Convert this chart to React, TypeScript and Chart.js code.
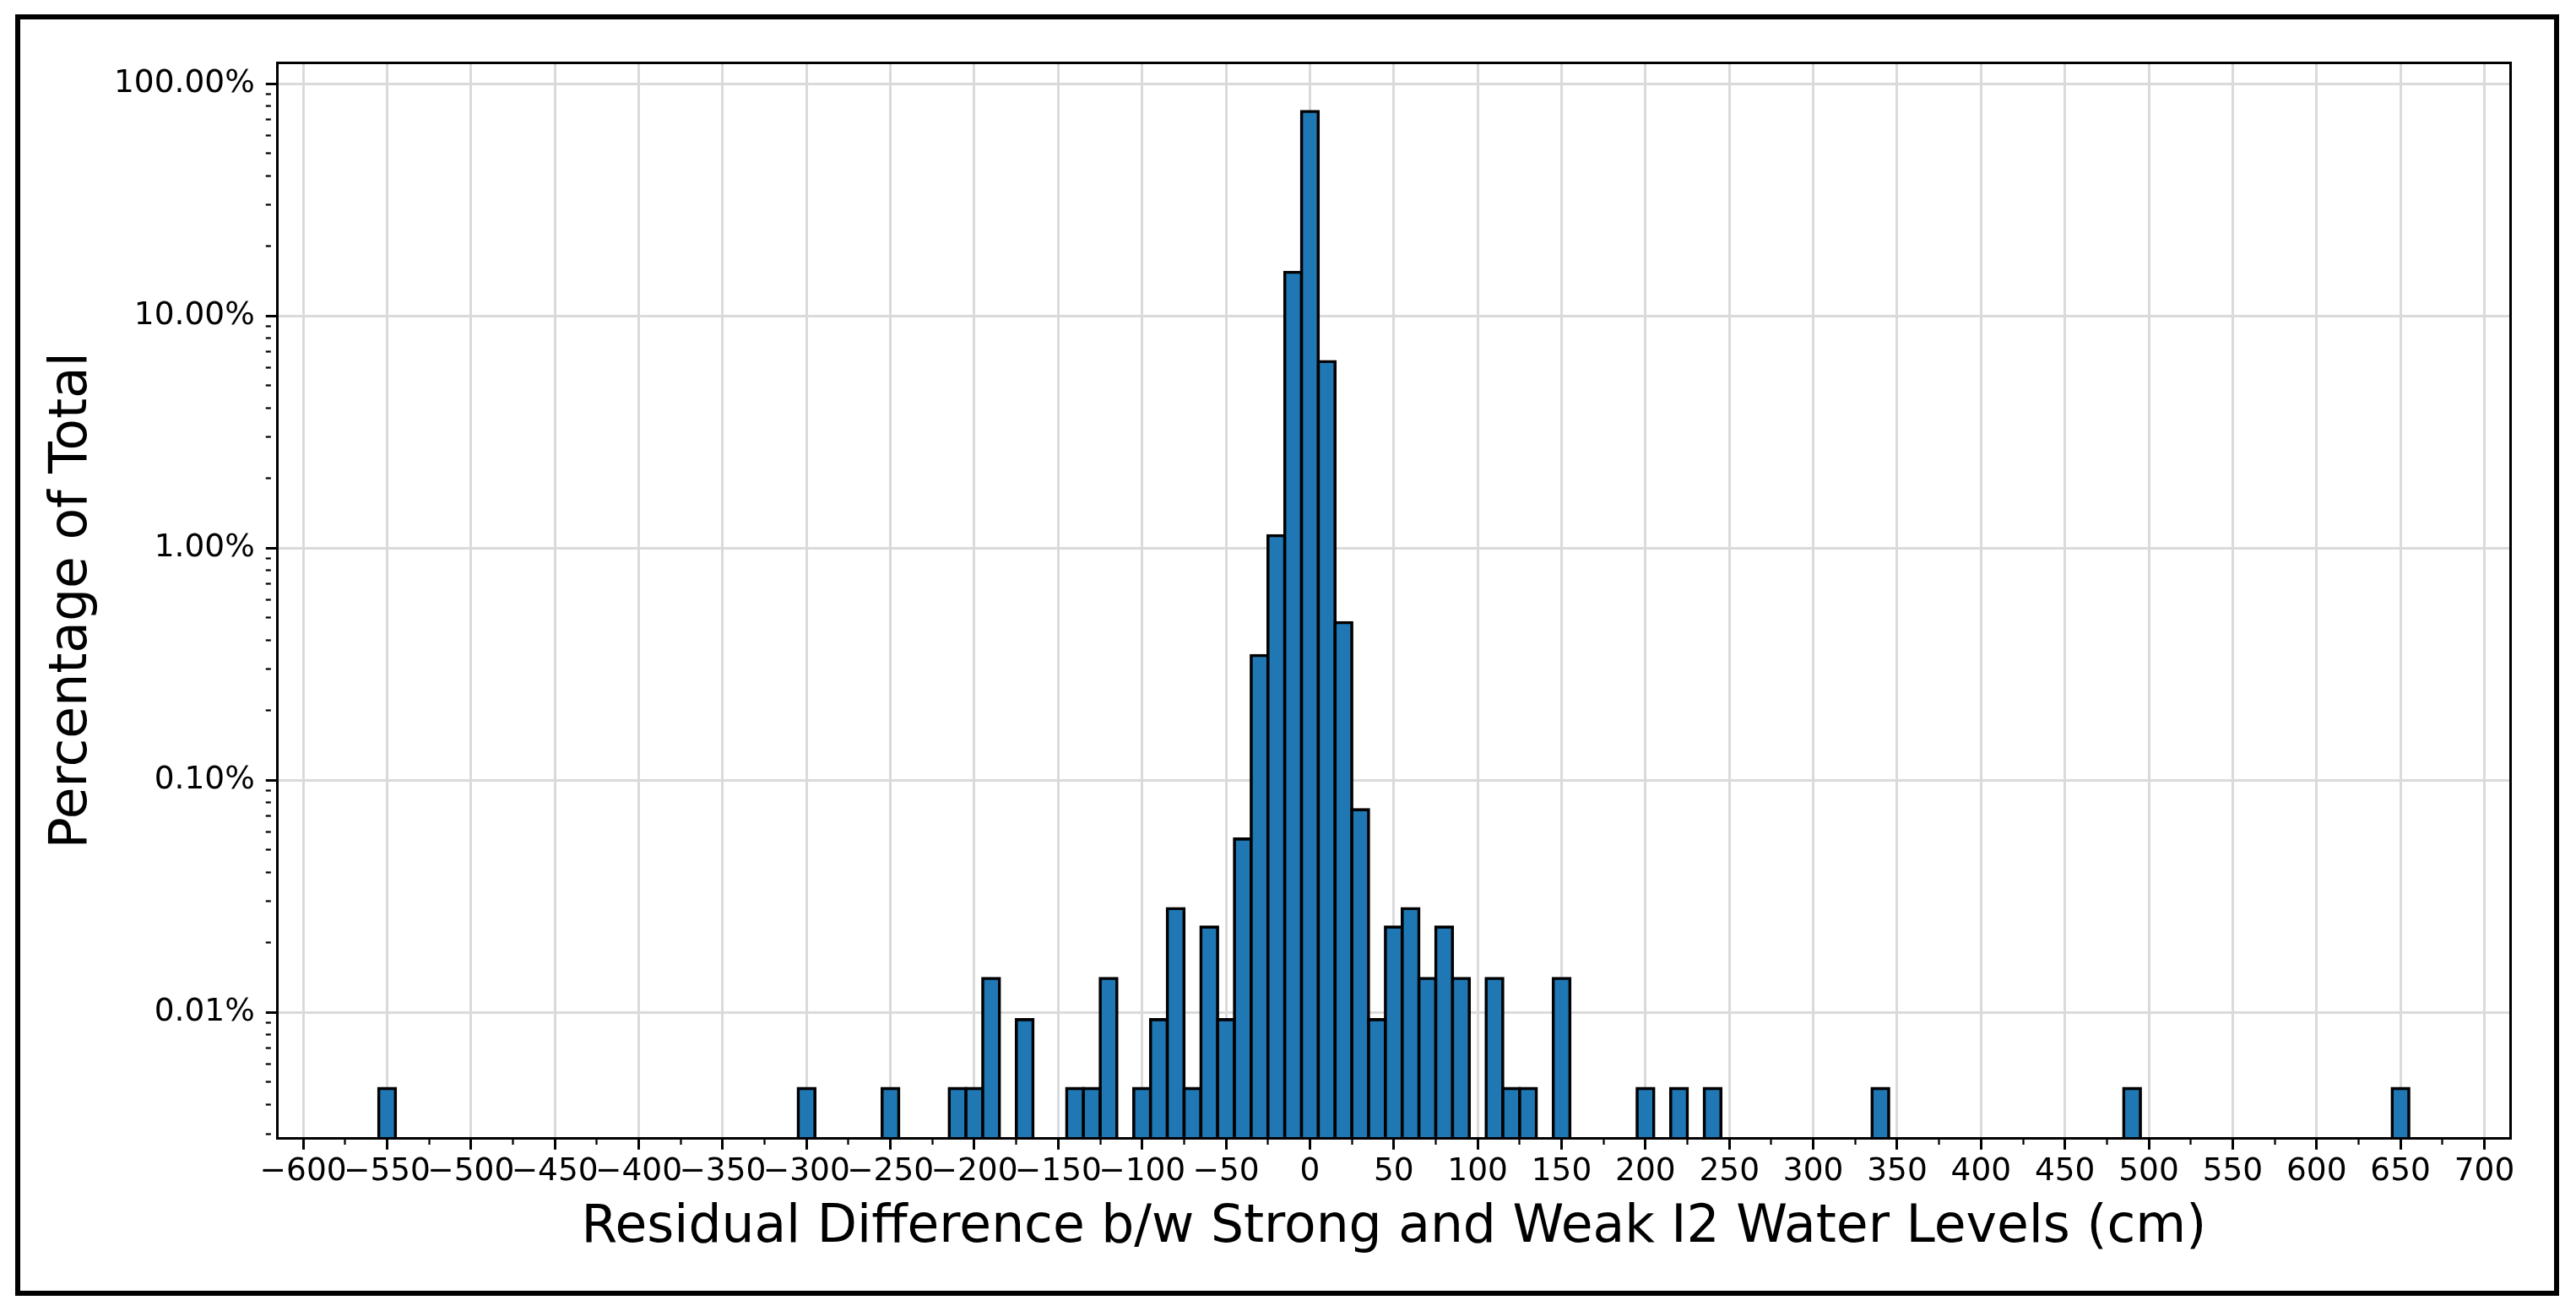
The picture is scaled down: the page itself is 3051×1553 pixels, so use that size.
import React, { useEffect, useRef } from 'react';
import { Chart, registerables } from 'chart.js';

Chart.register(...registerables);

// Histogram bins (bin centre in cm, bin width 10 cm) and their share of the total (%)
const binCenters = [-550, -300, -250, -210, -200, -190, -170, -140, -130, -120, -100, -90, -80, -70, -60, -50, -40, -30, -20, -10, 0, 10, 20, 30, 40, 50, 60, 70, 80, 90, 110, 120, 130, 150, 200, 220, 240, 340, 490, 650];
const percentOfTotal = [0.0047, 0.0047, 0.0047, 0.0047, 0.0047, 0.014, 0.0093, 0.0047, 0.0047, 0.014, 0.0047, 0.0093, 0.028, 0.0047, 0.0233, 0.0093, 0.0558, 0.344, 1.13, 15.4, 75.9, 6.35, 0.477, 0.0746, 0.0093, 0.0233, 0.028, 0.014, 0.0233, 0.014, 0.014, 0.0047, 0.0047, 0.014, 0.0047, 0.0047, 0.0047, 0.0047, 0.0047, 0.0047];

const xTickValues = [-600, -550, -500, -450, -400, -350, -300, -250, -200, -150, -100, -50, 0, 50, 100, 150, 200, 250, 300, 350, 400, 450, 500, 550, 600, 650, 700];
const xTickLabels = ['\u2212600', '\u2212550', '\u2212500', '\u2212450', '\u2212400', '\u2212350', '\u2212300', '\u2212250', '\u2212200', '\u2212150', '\u2212100', '\u221250', '0', '50', '100', '150', '200', '250', '300', '350', '400', '450', '500', '550', '600', '650', '700'];
const yTickValues = [0.01, 0.1, 1, 10, 100];
const yTickLabels = ['0.01%', '0.10%', '1.00%', '10.00%', '100.00%'];

const xTitle = 'Residual Difference b/w Strong and Weak I2 Water Levels (cm)';
const yTitle = 'Percentage of Total';

const X_MIN = -615.5;
const X_MAX = 715.5;
const Y_MIN = 0.00287;
const Y_MAX = 123.3;

const FONT = "'DejaVu Sans', sans-serif";

function buildXTicks() {
  const out: number[] = [];
  for (let i = 0; i < xTickValues.length; i++) {
    out.push(xTickValues[i]);
    if (i < xTickValues.length - 1) out.push((xTickValues[i] + xTickValues[i + 1]) / 2);
  }
  return out.filter((v) => v >= X_MIN && v <= X_MAX);
}

function buildYTicks() {
  const out: number[] = [];
  const decades = [0.001, 0.01, 0.1, 1, 10, 100];
  for (const d of decades) {
    for (let m = 1; m <= 9; m++) {
      const v = parseFloat((m * d).toPrecision(6));
      if (v >= Y_MIN && v <= Y_MAX) out.push(v);
    }
  }
  return out;
}

const isMajorX = (v: number) => xTickValues.indexOf(v) >= 0;
const yMajorIndex = (v: number) => yTickValues.findIndex((t) => Math.abs(t - v) / t < 1e-6);

export default function App() {
  const canvasRef = useRef<HTMLCanvasElement | null>(null);

  useEffect(() => {
    document.documentElement.style.overflow = 'hidden';
    const canvas = canvasRef.current;
    if (!canvas) return;
    const xTicks = buildXTicks();
    const yTicks = buildYTicks();
    const gridColor = '#dadada';

    const chart = new Chart(canvas, {
      type: 'bar',
      data: {
        datasets: [
          {
            data: binCenters.map((x, i) => ({ x, y: percentOfTotal[i] })),
            backgroundColor: '#1f77b4',
            borderColor: '#000000',
            borderWidth: 3.6,
            inflateAmount: 1.8,
            borderSkipped: 'start',
            barPercentage: 1,
            categoryPercentage: 1,
          } as any,
        ],
      },
      options: {
        animation: false,
        responsive: true,
        maintainAspectRatio: false,
        devicePixelRatio: 1,
        layout: { padding: { left: 0, right: 77.7, top: 74, bottom: 0 } },
        plugins: {
          legend: { display: false },
          tooltip: { enabled: false },
        },
        scales: {
          x: {
            type: 'linear',
            position: 'bottom',
            min: X_MIN,
            max: X_MAX,
            offset: false,
            afterBuildTicks: (s: any) => {
              s.ticks = xTicks.map((v) => ({ value: v }));
            },
            afterFit: (s: any) => {
              s.height = 204.7;
            },
            ticks: {
              autoSkip: false,
              maxRotation: 0,
              minRotation: 0,
              padding: 4,
              color: '#000000',
              font: { family: FONT, size: 37.5 },
              callback: (v: any) => {
                const i = xTickValues.indexOf(Number(v));
                return i >= 0 ? xTickLabels[i] : '';
              },
            },
            grid: {
              offset: false,
              color: (ctx: any) => (ctx.tick && isMajorX(ctx.tick.value) ? gridColor : 'rgba(0,0,0,0)'),
              lineWidth: 3,
              drawTicks: true,
              tickLength: 13.5,
              tickColor: '#000000',
              tickWidth: (ctx: any) => (ctx.tick && isMajorX(ctx.tick.value) ? 3 : 2.25),
              tickBorderDash: (ctx: any) => (ctx.tick && isMajorX(ctx.tick.value) ? [] : [6, 200]),
            },
            border: { display: true, color: '#000000', width: 3, z: 1 },
            title: {
              display: true,
              text: xTitle,
              color: '#000000',
              font: { family: FONT, size: 61.5 },
              padding: { top: 0, bottom: 61 },
            },
          } as any,
          y: {
            type: 'logarithmic',
            position: 'left',
            min: Y_MIN,
            max: Y_MAX,
            afterBuildTicks: (s: any) => {
              s.ticks = yTicks.map((v) => ({ value: v }));
            },
            afterFit: (s: any) => {
              s.width = 328.3;
            },
            ticks: {
              autoSkip: false,
              padding: 13,
              color: '#000000',
              font: { family: FONT, size: 37.5 },
              callback: (v: any) => {
                const i = yMajorIndex(Number(v));
                return i >= 0 ? yTickLabels[i] : '';
              },
            },
            grid: {
              color: (ctx: any) => (ctx.tick && yMajorIndex(ctx.tick.value) >= 0 ? gridColor : 'rgba(0,0,0,0)'),
              lineWidth: 3,
              drawTicks: true,
              tickLength: 13.5,
              tickColor: '#000000',
              tickWidth: (ctx: any) => (ctx.tick && yMajorIndex(ctx.tick.value) >= 0 ? 3 : 2.25),
              tickBorderDash: (ctx: any) => (ctx.tick && yMajorIndex(ctx.tick.value) >= 0 ? [] : [6, 200]),
            },
            border: { display: true, color: '#000000', width: 3, z: 1 },
            title: {
              display: true,
              text: yTitle,
              color: '#000000',
              font: { family: FONT, size: 61.5 },
              padding: { top: 49.5, bottom: 0 },
            },
          } as any,
          xTop: {
            type: 'linear',
            position: 'top',
            min: X_MIN,
            max: X_MAX,
            afterFit: (s: any) => {
              s.height = 0;
            },
            ticks: { display: false },
            grid: { drawOnChartArea: false, drawTicks: false },
            border: { display: true, color: '#000000', width: 3, z: 1 },
          } as any,
          yRight: {
            type: 'linear',
            position: 'right',
            min: 0,
            max: 1,
            afterFit: (s: any) => {
              s.width = 0;
            },
            ticks: { display: false },
            grid: { drawOnChartArea: false, drawTicks: false },
            border: { display: true, color: '#000000', width: 3, z: 1 },
          } as any,
        },
      },
    });

    return () => {
      chart.destroy();
    };
  }, []);

  return (
    <div>
      <div
        style={{
          position: 'absolute',
          left: 0,
          top: 0,
          width: '3051px',
          height: '1553px',
          background: '#ffffff',
        }}
      >
        <canvas ref={canvasRef} />
      </div>
      <div
        style={{
          position: 'absolute',
          left: '18px',
          top: '17px',
          width: '3013px',
          height: '1518px',
          boxSizing: 'border-box',
          border: '6.5px solid #000000',
          pointerEvents: 'none',
        }}
      />
    </div>
  );
}
